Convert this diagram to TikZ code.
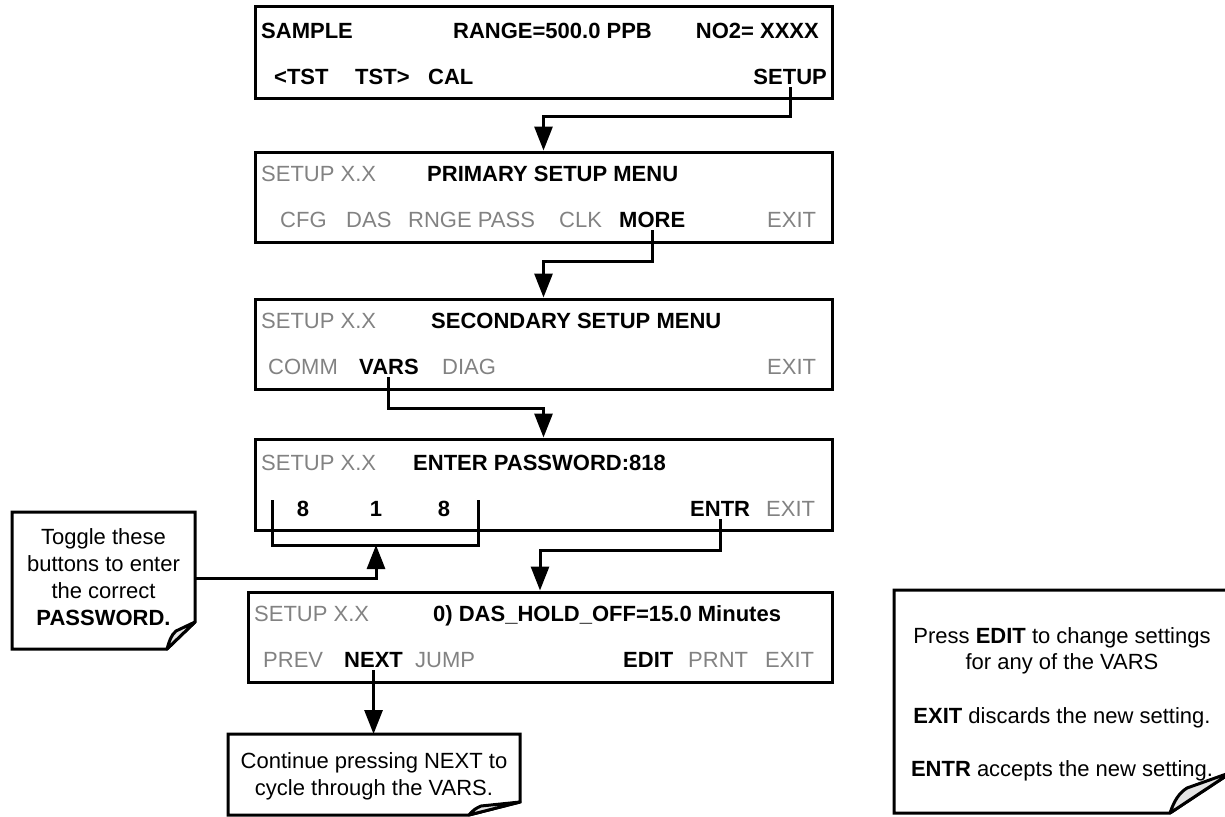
\documentclass[tikz,border=0pt]{standalone}
\usepackage{fontspec}
\setmainfont{Liberation Sans}
\usetikzlibrary{arrows.meta}
\definecolor{inact}{RGB}{130,130,130}
\definecolor{flapgray}{RGB}{228,228,228}
\begin{document}
\begin{tikzpicture}[x=1pt,y=-1pt,
  box/.style={draw, line width=3pt, minimum width=577pt, minimum height=90pt, inner sep=0pt},
  lbl/.style={inner sep=0pt, font=\fontsize{22}{26}\selectfont},
  on/.style={lbl, font=\fontsize{22}{26}\selectfont\bfseries},
  off/.style={lbl, text=inact},
  ntxt/.style={inner sep=0pt, font=\fontsize{22}{26}\selectfont, anchor=base},
  conn/.style={line width=3pt},
  arr/.style={conn, -{Triangle[length=24pt,width=18pt]}},
  noteline/.style={line width=3pt, fill=white, line join=miter},
  flap/.style={line width=3pt, fill=flapgray, line join=round},
  anchorbox/.style={inner sep=0pt, outer sep=0pt, draw=none}
]
\useasboundingbox (0,0) rectangle (1225,816);

% ---------- boxes ----------
\node[box, minimum height=91pt] (b1) at (543.5,52.5) {};
\node[box] (b2) at (543.5,197) {};
\node[box] (b3) at (543.5,344) {};
\node[box, minimum height=91pt] (b4) at (543.5,484.5) {};
\node[box, minimum width=584pt] (b5) at (540,637) {};

% box 1
\node[on, anchor=base west] (sample) at (261,38) {SAMPLE};
\node[on, anchor=base west] (range) at (453,38) {RANGE=500.0 PPB};
\node[on, anchor=base east] (no2) at (819,38) {NO2= XXXX};
\node[on, anchor=base west] (tstl) at (274,84) {<TST};
\node[on, anchor=base west] (tstr) at (355,84) {TST>};
\node[on, anchor=base west] (cal) at (428,84) {CAL};
\node[on, anchor=base east] (setup) at (827,84) {SETUP};

% box 2
\node[off, anchor=base west] (s2) at (261,181) {SETUP X.X};
\node[on, anchor=base west] (prim) at (427,181) {PRIMARY SETUP MENU};
\node[off, anchor=base west] (cfg) at (280,227) {CFG};
\node[off, anchor=base west] (das) at (346,227) {DAS};
\node[off, anchor=base west] (rnge) at (408,227) {RNGE PASS};
\node[off, anchor=base west] (clk) at (559,227) {CLK};
\node[on, anchor=base west] (more) at (619,227) {MORE};
\node[off, anchor=base west] (exit2) at (767,227) {EXIT};

% box 3
\node[off, anchor=base west] (s3) at (261,328) {SETUP X.X};
\node[on, anchor=base west] (sec) at (431,328) {SECONDARY SETUP MENU};
\node[off, anchor=base west] (comm) at (268,374) {COMM};
\node[on, anchor=base west] (vars) at (359,374) {VARS};
\node[off, anchor=base west] (diag) at (442,374) {DIAG};
\node[off, anchor=base west] (exit3) at (767,374) {EXIT};

% box 4
\node[off, anchor=base west] (s4) at (261,470) {SETUP X.X};
\node[on, anchor=base west] (pw) at (413,470) {ENTER PASSWORD:818};
\node[on, anchor=base] (d1) at (303,516) {8};
\node[on, anchor=base] (d2) at (376,516) {1};
\node[on, anchor=base] (d3) at (444,516) {8};
\node[on, anchor=base west] (entr) at (690,516) {ENTR};
\node[off, anchor=base west] (exit4) at (766,516) {EXIT};

% box 5
\node[off, anchor=base west] (s5) at (254,621) {SETUP X.X};
\node[on, anchor=base west] (hold) at (433,621) {0) DAS\_HOLD\_OFF=15.0 Minutes};
\node[off, anchor=base west] (prev) at (263,667) {PREV};
\node[on, anchor=base west] (next) at (344,667) {NEXT};
\node[off, anchor=base west] (jump) at (415,667) {JUMP};
\node[on, anchor=base west] (edit) at (623,667) {EDIT};
\node[off, anchor=base west] (prnt) at (688,667) {PRNT};
\node[off, anchor=base west] (exit5) at (765,667) {EXIT};

% ---------- notes ----------
% left note
\node[anchorbox, minimum width=183pt, minimum height=137pt] (tnote) at (103.5,580.5) {};
\draw[noteline] (12,512) -- (195,512) -- (195,622) -- (167,649) -- (12,649) -- cycle;
\draw[flap] (167,649) .. controls (169,642) and (171,635) .. (176,631) -- (195,622) -- cycle;
\node[ntxt] (t1) at (103.5,544) {Toggle these};
\node[ntxt] (t2) at (103.5,571) {buttons to enter};
\node[ntxt] (t3) at (103.5,598) {the correct};
\node[ntxt, font=\fontsize{22}{26}\selectfont\bfseries] (t4) at (103.5,625) {PASSWORD.};

% bottom note
\node[anchorbox, minimum width=292pt, minimum height=81pt] (nnote) at (374,774.5) {};
\draw[noteline] (228,734) -- (520,734) -- (520,802) -- (469,815) -- (228,815) -- cycle;
\draw[flap] (469,815) .. controls (472,811) and (476,808) .. (481,806) -- (520,802) -- cycle;
\node[ntxt] (n1) at (374,768) {Continue pressing NEXT to};
\node[ntxt] (n2) at (374,795) {cycle through the VARS.};

% right note
\node[anchorbox, minimum width=338pt, minimum height=223pt] (rnote) at (1063,701.5) {};
\draw[noteline] (894,590) -- (1232,590) -- (1232,772) -- (1170,813) -- (894,813) -- cycle;
\draw[flap] (1170,813) .. controls (1174,801) and (1179,793) .. (1187,788) -- (1232,772) -- cycle;
\node[ntxt] (r1) at (1062,643) {Press \textbf{EDIT} to change settings};
\node[ntxt] (r2) at (1062,669) {for any of the VARS};
\node[ntxt] (r3) at (1062,723) {\textbf{EXIT} discards the new setting.};
\node[ntxt] (r4) at (1062,776) {\textbf{ENTR} accepts the new setting.};

% ---------- connectors ----------
\coordinate (h1) at (0,116);
\coordinate (h2) at (0,261);
\coordinate (h3) at (0,408);
\coordinate (h4) at (0,550);
\draw[arr] ([yshift=-3pt]setup.south) -- (setup.south |- h1) -| (b2.north);
\draw[arr] ([yshift=-3pt]more.south) -- (more.south |- h2) -| (b3.north);
\draw[arr] ([yshift=-3pt]vars.south) -- (vars.south |- h3) -| (b4.north);
\draw[arr] ([yshift=-3pt]entr.south) -- (entr.south |- h4) -| (b5.north);
\draw[arr] ([yshift=-3pt]next.south) -- (next.south |- nnote.north);

% bracket under the digits
\coordinate (bl) at (272,500);
\coordinate (br) at (478,500);
\coordinate (bb) at (376,545);
\draw[conn] (bl) -- (bl |- bb) -- (br |- bb) -- (br);
\draw[arr] (tnote.east |- 0,578) -| (bb);
\end{tikzpicture}
\end{document}
